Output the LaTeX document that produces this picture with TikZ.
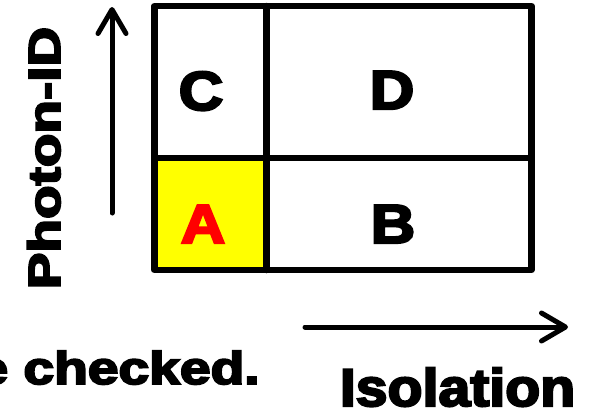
\documentclass[tikz,border=0pt]{standalone}
\usepackage{fontspec}
\newfontfamily\heavy{Liberation Sans}[BoldFeatures={FakeBold=4}]
\usetikzlibrary{arrows.meta}
\definecolor{cellyellow}{RGB}{255,255,0}
\definecolor{cellred}{RGB}{255,0,0}
\tikzset{
  grid line/.style={line width=6.5pt, line join=round, line cap=round},
  axis arrow/.style={line width=5pt, line cap=round,
    -{Straight Barb[length=24pt, width=28pt, line cap=round, line join=round]}},
  cell label/.style={font=\heavy\bfseries\fontsize{55}{55}\selectfont, anchor=base,
    inner sep=0pt, xscale=1.12},
  axis label/.style={font=\heavy\bfseries\fontsize{53}{53}\selectfont, anchor=base,
    inner sep=0pt}
}
\begin{document}
\begin{tikzpicture}[x=1pt, y=-1pt]
  \useasboundingbox (0,0) rectangle (594,416);
  \clip (0,0) rectangle (594,416);

  % highlighted signal region
  \fill[cellyellow] (154.5,158) rectangle (266.5,270);

  % the 2x2 ABCD grid
  \coordinate (tl) at (154.5,6);
  \coordinate (br) at (531.5,270);
  \draw[grid line] (tl) rectangle (br);
  \draw[grid line] (266.5,6) -- (266.5,270);
  \draw[grid line] (154.5,158) -- (531.5,158);

  % region labels
  \node[cell label] (C) at (201,110) {C};
  \node[cell label] (D) at (392,109) {D};
  \node[cell label, text=cellred] (A) at (203,243) {A};
  \node[cell label] (B) at (393,243) {B};

  % axes
  \coordinate (up0) at (112,213);
  \coordinate (up1) at (112,7);
  \draw[axis arrow] (up0) -- (up1);
  \coordinate (rt0) at (305,327);
  \coordinate (rt1) at (568,327);
  \draw[axis arrow] (rt0) -- (rt1);

  \node[axis label, rotate=90, anchor=base, font=\heavy\bfseries\fontsize{45}{45}\selectfont,
        xscale=1.22] (pid) at (60,158) {Photon-ID};
  \node[axis label, anchor=base, xscale=1.08] (iso) at (457.5,406) {Isolation};
  \node[axis label, anchor=base east, font=\heavy\bfseries\fontsize{46}{46}\selectfont,
        xscale=1.2] (chk) at (260,384) {e checked.};
\end{tikzpicture}
\end{document}
